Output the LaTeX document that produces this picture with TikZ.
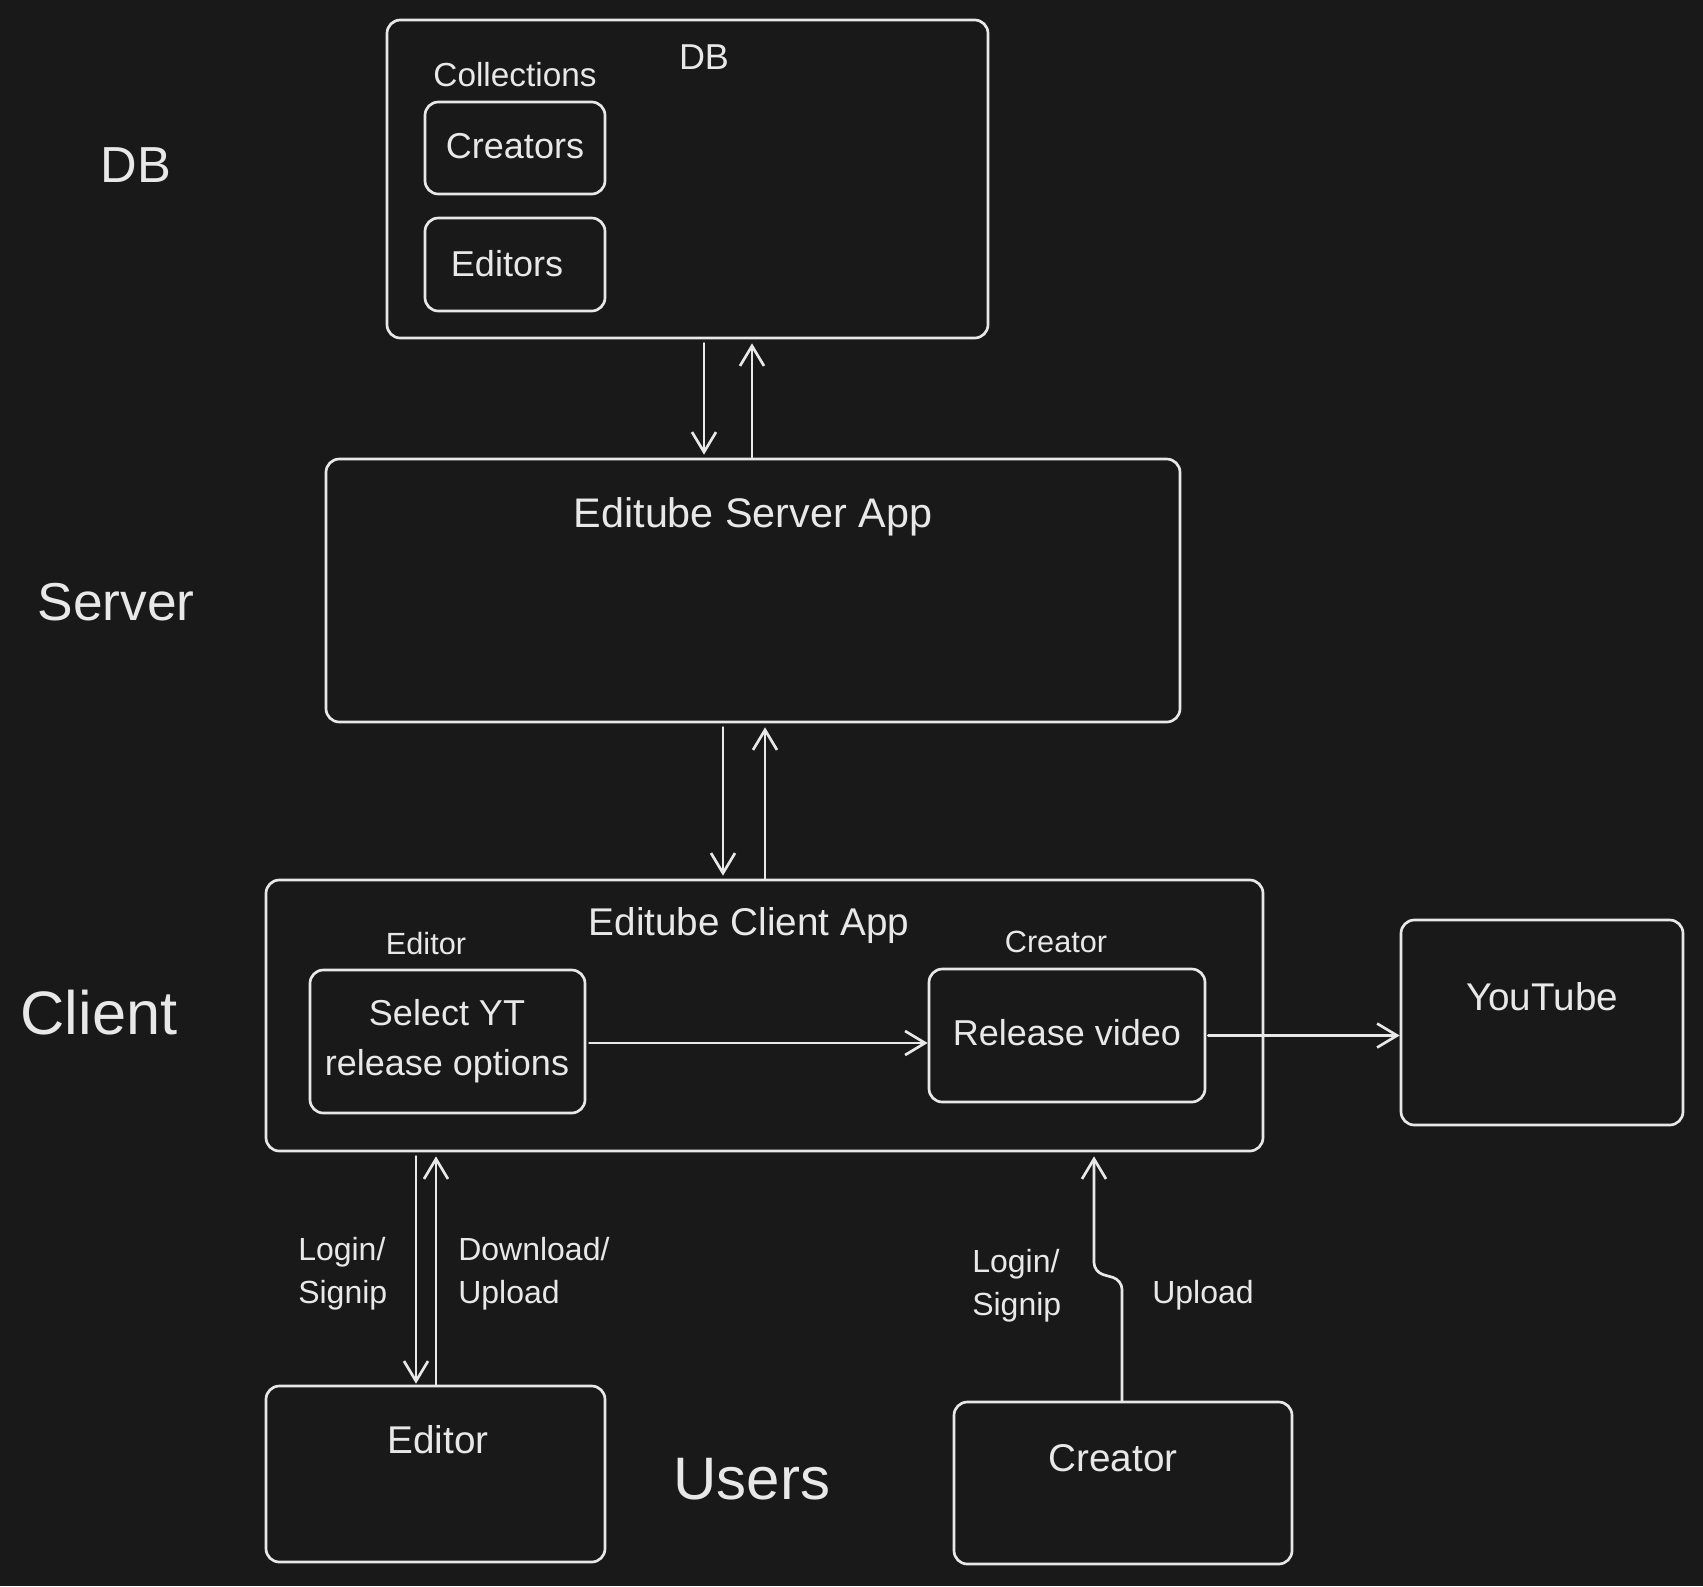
\documentclass[tikz,border=0pt]{standalone}
\usepackage{fontspec}
\setmainfont{Liberation Sans}
\usetikzlibrary{arrows.meta,calc,fit}
\definecolor{bg}{RGB}{25,25,25}
\definecolor{fg}{RGB}{232,232,232}
\newcommand\fsz[2]{\fontsize{#1}{#2}\selectfont}
\begin{document}
\begin{tikzpicture}[x=0.75pt,y=-0.75pt,
  box/.style={draw=fg,line width=2pt,rounded corners=10pt,inner sep=0pt},
  lbl/.style={text=fg,anchor=base,inner sep=0pt},
  arr/.style={draw=fg,line width=2pt,line cap=round,-{Straight Barb[length=15pt,width=18pt,line width=2pt]}}]
\useasboundingbox (0,0) rectangle (1703,1586);
\fill[bg] (0,0) rectangle (1703,1586);

% side labels
\node[lbl,font=\fsz{38}{44}] (lDB) at (136,182) {DB};
\node[lbl,font=\fsz{40}{46}] (lServer) at (116,620) {Server};
\node[lbl,font=\fsz{46}{52}] (lClient) at (99,1034) {Client};
\node[lbl,font=\fsz{45}{52}] (lUsers) at (752,1499) {Users};

% DB
\node[box,fit={(387,20) (988,338)}] (db) {};
\node[lbl,font=\fsz{27}{32}] (dbt) at (704,69) {DB};
\node[lbl,font=\fsz{25}{30}] (colt) at (515,86) {Collections};
\node[box,fit={(425,102) (605,194)}] (cre) {};
\node[lbl,font=\fsz{27}{32}] (cret) at (515,158) {Creators};
\node[box,fit={(425,218) (605,311)}] (edi) {};
\node[lbl,font=\fsz{27}{32}] (edit) at (507,276) {Editors};

% Server
\node[box,fit={(326,459) (1180,722)}] (srv) {};
\node[lbl,font=\fsz{31}{36}] (srvt) at (753,527) {Editube Server App};

% Client
\node[box,fit={(266,880) (1263,1151)}] (cli) {};
\node[lbl,font=\fsz{29}{34}] (clit) at (749,935) {Editube Client App};
\node[lbl,font=\fsz{23}{28}] (edsm) at (426,954) {Editor};
\node[lbl,font=\fsz{23}{28}] (crsm) at (1056,952) {Creator};
\node[box,fit={(310,970) (585,1113)}] (sel) {};
\node[lbl,align=center,font=\fsz{27}{37}] (selt) at (447,1075) {Select YT\\release options};
\node[box,fit={(929,969) (1205,1102)}] (rel) {};
\node[lbl,font=\fsz{27}{32}] (relt) at (1067,1045) {Release video};

% YouTube
\node[box,fit={(1401,920) (1683,1125)}] (yt) {};
\node[lbl,font=\fsz{29}{34}] (ytt) at (1542,1010) {YouTube};

% Users
\node[box,fit={(266,1386) (605,1562)}] (ed) {};
\node[lbl,font=\fsz{29}{34}] (edt) at (438,1453) {Editor};
\node[box,fit={(954,1402) (1292,1564)}] (cr) {};
\node[lbl,font=\fsz{29}{34}] (crt) at (1113,1471) {Creator};

% edge labels
\node[lbl,anchor=base west,align=left,font=\fsz{24}{32}] (l1) at (298,1303) {Login/\\Signip};
\node[lbl,anchor=base west,align=left,font=\fsz{24}{32}] (l2) at (458,1303) {Download/\\Upload};
\node[lbl,anchor=base west,align=left,font=\fsz{24}{32}] (l3) at (972,1315) {Login/\\Signip};
\node[lbl,anchor=base west,align=left,font=\fsz{24}{32}] (l4) at (1152,1303) {Upload};

% DB <-> Server
\coordinate (a1) at (704,0);
\coordinate (a2) at (752,0);
\draw[arr] ($(a1 |- db.south)+(0,4)$) -- ($(a1 |- srv.north)+(0,-3)$);
\draw[arr] (a2 |- srv.north) -- ($(a2 |- db.south)+(0,4)$);

% Server <-> Client
\coordinate (b1) at (723,0);
\coordinate (b2) at (765,0);
\draw[arr] ($(b1 |- srv.south)+(0,4)$) -- ($(b1 |- cli.north)+(0,-3)$);
\draw[arr] (b2 |- cli.north) -- ($(b2 |- srv.south)+(0,4)$);

% inside client
\draw[arr] (sel.east) ++(3,1.5) coordinate (s1) -- (s1 -| rel.west);
\draw[arr] (rel.east) ++(2,0) coordinate (r1) -- (r1 -| yt.west);

% Client <-> Editor
\coordinate (c1) at (416,0);
\coordinate (c2) at (436,0);
\draw[arr] ($(c1 |- cli.south)+(0,4)$) -- ($(c1 |- ed.north)+(0,-1)$);
\draw[arr] (c2 |- ed.north) -- ($(c2 |- cli.south)+(0,4)$);

% Creator -> Client
\coordinate (j1) at (1122,1280);
\coordinate (j2) at (1094,1272);
\draw[arr,rounded corners=7pt] (j1 |- cr.north) -- (j1) -- (j2) -- ($(j2 |- cli.south)+(0,4)$);
\end{tikzpicture}
\end{document}
